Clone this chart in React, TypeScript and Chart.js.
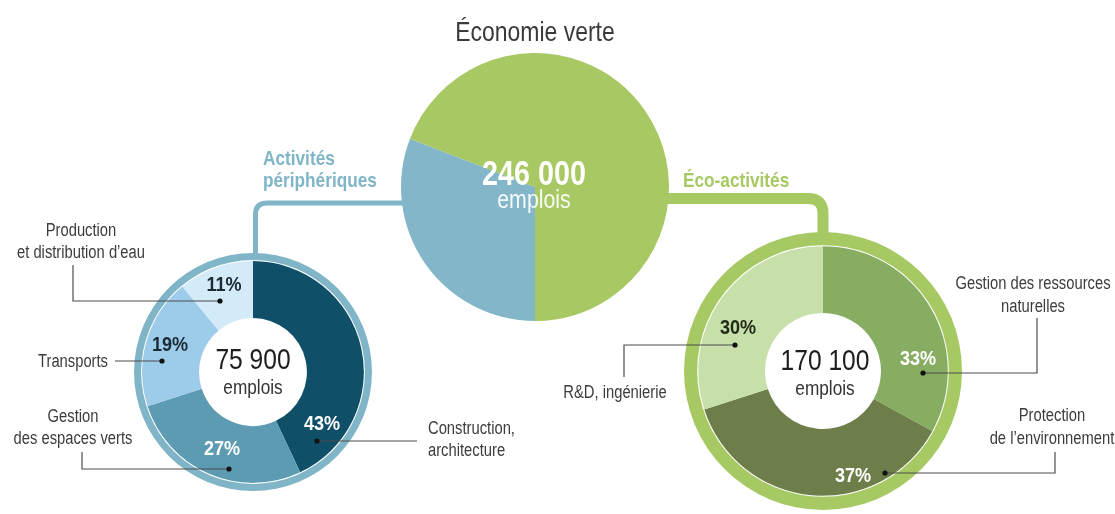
import React, { useEffect, useRef } from "react";
import { Chart, registerables } from "chart.js";

Chart.register(...registerables);

// ---------- DATA ----------
const titleText = "Économie verte";
const totalLabel = "246 000";
const unitLabel = "emplois";

const greenLabels = ["Activités périphériques", "Éco-activités"];
const greenValues = [75900, 170100];

const periTotal = "75 900";
const periLabels = [
  "Construction, architecture",
  "Gestion des espaces verts",
  "Transports",
  "Production et distribution d’eau",
];
const periValues = [43, 27, 19, 11];

const ecoTotal = "170 100";
const ecoLabels = [
  "Gestion des ressources naturelles",
  "Protection de l’environnement",
  "R&D, ingénierie",
];
const ecoValues = [33, 37, 30];

// ---------- STYLE ----------
const FONT = '"Liberation Sans", Arial, sans-serif';
const BLUE = "#82b6c8";
const GREEN = "#a7c862";
const periColors = ["#0f5068", "#5c9bb1", "#9dcbea", "#d3ebf8"];
const ecoColors = ["#87ad62", "#6e7e4b", "#c7dfa8"];
const TEXT = "#3c3c3c";

type Lbl = {
  x: number;
  y: number;
  text: string;
  size: number;
  color: string;
  weight?: number;
  align?: "center" | "left" | "right";
  sx?: number;
};

function Label({ x, y, text, size, color, weight = 400, align = "center", sx = 0.82 }: Lbl) {
  const tx = align === "center" ? "-50%" : align === "right" ? "-100%" : "0";
  const ox = align === "center" ? "center" : align;
  return (
    <div
      style={{
        position: "absolute",
        left: x,
        top: y,
        transform: `translate(${tx}, -50%) scaleX(${sx})`,
        transformOrigin: `${ox} center`,
        fontFamily: FONT,
        fontSize: size,
        fontWeight: weight,
        color,
        whiteSpace: "nowrap",
        lineHeight: 1,
        zIndex: 3,
      }}
    >
      {text}
    </div>
  );
}

export default function App() {
  const bigRef = useRef<HTMLCanvasElement>(null);
  const leftRef = useRef<HTMLCanvasElement>(null);
  const rightRef = useRef<HTMLCanvasElement>(null);

  useEffect(() => {
    const base = (radius: number, cutout: number, rotation = 0) => ({
      responsive: false,
      animation: false as const,
      events: [] as any[],
      radius,
      cutout,
      rotation,
      layout: { padding: 0 },
      elements: { arc: { borderWidth: 0 } },
      plugins: { legend: { display: false }, tooltip: { enabled: false } },
    });

    const big = new Chart(bigRef.current!, {
      type: "pie",
      data: {
        labels: greenLabels,
        datasets: [{ data: greenValues, backgroundColor: [BLUE, GREEN], borderWidth: 0 }],
      },
      options: base(134, 0, 180) as any,
    });

    const left = new Chart(leftRef.current!, {
      type: "doughnut",
      data: {
        labels: periLabels,
        datasets: [
          { data: [1], backgroundColor: ["#80b5c8"], weight: 7, borderWidth: 0 } as any,
          { data: [1], backgroundColor: ["rgba(255,255,255,0.3)"], weight: 1, borderWidth: 0 } as any,
          { data: periValues, backgroundColor: periColors, weight: 56.2, borderWidth: 0 } as any,
        ],
      },
      options: base(119, 54.8) as any,
    });

    const right = new Chart(rightRef.current!, {
      type: "doughnut",
      data: {
        labels: ecoLabels,
        datasets: [
          { data: [1], backgroundColor: ["#a6c963"], weight: 13, borderWidth: 0 } as any,
          { data: [1], backgroundColor: ["rgba(255,255,255,0.3)"], weight: 1, borderWidth: 0 } as any,
          { data: ecoValues, backgroundColor: ecoColors, weight: 66.2, borderWidth: 0 } as any,
        ],
      },
      options: base(139, 58.8) as any,
    });

    return () => {
      big.destroy();
      left.destroy();
      right.destroy();
    };
  }, []);

  const pct = (v: number) => `${v}%`;
  const lineC = "#4d4d4d";
  const P = 21;
  const PS = 0.86;

  return (
    <div
      style={{
        position: "absolute",
        left: 0,
        top: 0,
        width: 1115,
        height: 514,
        background: "#fff",
        overflow: "hidden",
      }}
    >
      {/* connectors (behind) */}
      <svg width={1115} height={514} style={{ position: "absolute", left: 0, top: 0, zIndex: 0 }}>
        <path d="M 430 203 L 267 203 Q 255.5 203 255.5 214.5 L 255.5 258" fill="none" stroke="#80b5c8" strokeWidth={5} />
        <path d="M 640 198.5 L 808 198.5 Q 823 198.5 823 213.5 L 823 240" fill="none" stroke="#a6c963" strokeWidth={11} />
      </svg>

      <canvas ref={bigRef} width={270} height={270} style={{ position: "absolute", left: 399.5, top: 52, zIndex: 1 }} />
      <canvas ref={leftRef} width={242} height={242} style={{ position: "absolute", left: 132, top: 251, zIndex: 1 }} />
      <canvas ref={rightRef} width={282} height={282} style={{ position: "absolute", left: 682, top: 230, zIndex: 1 }} />

      {/* leader lines (above) */}
      <svg width={1115} height={514} style={{ position: "absolute", left: 0, top: 0, zIndex: 2 }}>
        <g fill="none" stroke={lineC} strokeWidth={1.2}>
          <polyline points="220,301 73,301 73,265" />
          <polyline points="162,361 115,361" />
          <polyline points="229,469 82,469 82,452" />
          <polyline points="317,441 417,441" />
          <polyline points="735,345 624,345 624,377" />
          <polyline points="923,373 1037,373 1037,318" />
          <polyline points="885,473 1055,473 1055,452" />
        </g>
        <g fill="#111">
          <circle cx={220} cy={301} r={2.6} />
          <circle cx={162} cy={361} r={2.6} />
          <circle cx={229} cy={469} r={2.6} />
          <circle cx={317} cy={441} r={2.6} />
          <circle cx={735} cy={345} r={2.6} />
          <circle cx={923} cy={373} r={2.6} />
          <circle cx={885} cy={473} r={2.6} />
        </g>
      </svg>

      {/* title & center texts */}
      <Label x={535} y={32} text={titleText} size={28} color="#3a3a3a" />
      <Label x={534} y={172} text={totalLabel} size={35} color="#fff" weight={700} />
      <Label x={534} y={199} text={unitLabel} size={26} color="rgba(255,255,255,0.92)" />

      <Label x={263} y={157} text="Activités" size={21} color="#80b5c8" weight={700} align="left" />
      <Label x={263} y={179} text="périphériques" size={21} color="#80b5c8" weight={700} align="left" />
      <Label x={683} y={179} text="Éco-activités" size={21} color="#a6c963" weight={700} align="left" />

      <Label x={253} y={359} text={periTotal} size={30} color="#1e1e1e" />
      <Label x={253} y={386} text={unitLabel} size={21} color="#333" />
      <Label x={825} y={360} text={ecoTotal} size={30} color="#1e1e1e" />
      <Label x={825} y={387} text={unitLabel} size={21} color="#333" />

      {/* percentages */}
      <Label x={322} y={422} text={pct(periValues[0])} size={P} sx={PS} color="#fff" weight={700} />
      <Label x={222} y={447} text={pct(periValues[1])} size={P} sx={PS} color="#fff" weight={700} />
      <Label x={170} y={343} text={pct(periValues[2])} size={P} sx={PS} color="#1c2a33" weight={700} />
      <Label x={224} y={283} text={pct(periValues[3])} size={P} sx={PS} color="#1c2a33" weight={700} />

      <Label x={918} y={357} text={pct(ecoValues[0])} size={P} sx={PS} color="#fff" weight={700} />
      <Label x={853} y={474} text={pct(ecoValues[1])} size={P} sx={PS} color="#fff" weight={700} />
      <Label x={738} y={326} text={pct(ecoValues[2])} size={P} sx={PS} color="#1f2a18" weight={700} />

      {/* category labels */}
      <Label x={81} y={230} text="Production" size={18} color={TEXT} />
      <Label x={81} y={252} text="et distribution d’eau" size={18} color={TEXT} />
      <Label x={108} y={361} text={periLabels[2]} size={18} color={TEXT} align="right" />
      <Label x={73} y={416} text="Gestion" size={18} color={TEXT} />
      <Label x={73} y={438} text="des espaces verts" size={18} color={TEXT} />
      <Label x={428} y={428} text="Construction," size={18} color={TEXT} align="left" />
      <Label x={428} y={450} text="architecture" size={18} color={TEXT} align="left" />

      <Label x={615} y={392} text={ecoLabels[2]} size={18} color={TEXT} />
      <Label x={1033} y={283} text="Gestion des ressources" size={18} color={TEXT} />
      <Label x={1033} y={306} text="naturelles" size={18} color={TEXT} />
      <Label x={1052} y={415} text="Protection" size={18} color={TEXT} />
      <Label x={1052} y={438} text="de l’environnement" size={18} color={TEXT} />
    </div>
  );
}
